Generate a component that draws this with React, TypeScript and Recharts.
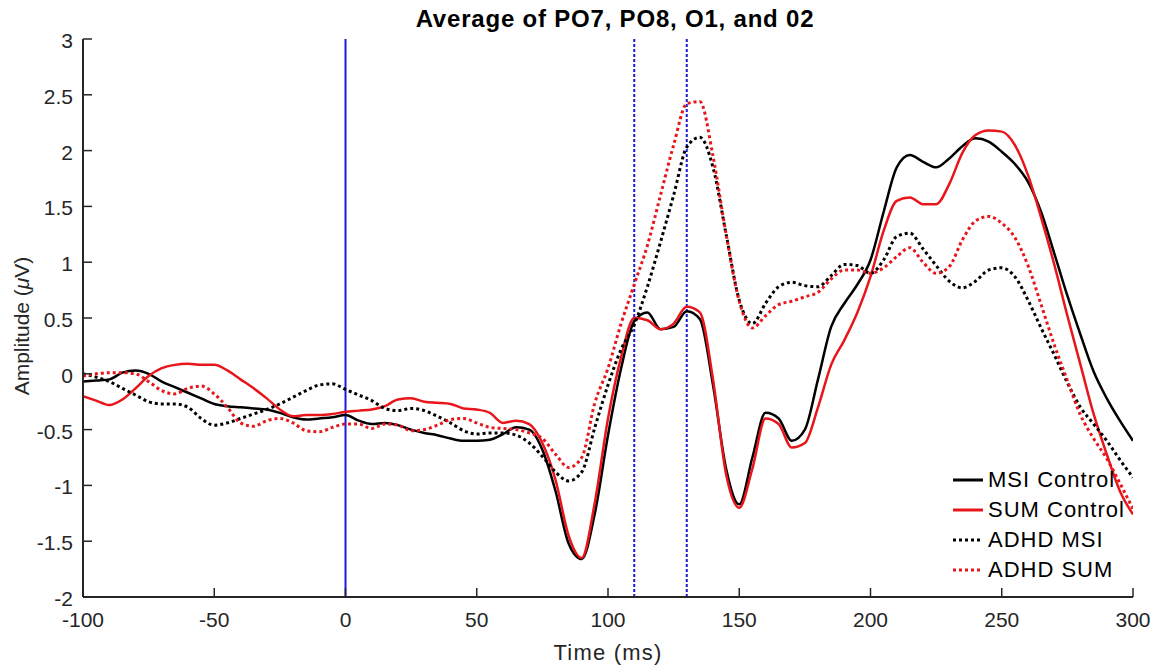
import React from 'react';
import {
  LineChart,
  Line,
  XAxis,
  YAxis,
  ReferenceLine,
  Legend,
  Label,
} from 'recharts';

// time points (ms)
const TIME = [
  -100, -95, -90, -85, -80, -75, -70, -65, -60, -55, -50, -45, -40, -35, -30, -25, -20, -15, -10, -5,
  0, 5, 10, 15, 20, 25, 30, 35, 40, 45, 50, 55, 60, 65, 70, 75, 80, 85, 90, 95,
  100, 105, 110, 115, 120, 125, 130, 135, 140, 145, 150, 155, 160, 165, 170, 175, 180, 185, 190, 195,
  200, 205, 210, 215, 220, 225, 230, 235, 240, 245, 250, 255, 260, 265, 270, 275, 280, 285, 290, 295,
  300,
];

const MSI_CONTROL = [
  -0.07, -0.06, -0.05, 0.01, 0.03, 0.0, -0.07, -0.12, -0.17, -0.22, -0.27, -0.29, -0.3, -0.31, -0.32, -0.35, -0.39, -0.41, -0.4, -0.39,
  -0.37, -0.42, -0.45, -0.44, -0.46, -0.5, -0.53, -0.55, -0.58, -0.6, -0.6, -0.59, -0.54, -0.48, -0.5, -0.68, -1.05, -1.52, -1.66, -1.25,
  -0.55, 0.05, 0.47, 0.55, 0.4, 0.42, 0.56, 0.49, -0.1, -0.85, -1.17, -0.75, -0.35, -0.4, -0.6, -0.5, -0.05, 0.42, 0.63, 0.8,
  1.02, 1.45, 1.85, 1.96, 1.9, 1.85, 1.93, 2.04, 2.11, 2.08, 1.99, 1.88, 1.72, 1.45, 1.08, 0.7, 0.35, 0.02, -0.22, -0.42,
  -0.6,
];

const SUM_CONTROL = [
  -0.2, -0.24, -0.28, -0.23, -0.13, -0.02, 0.05, 0.08, 0.09, 0.08, 0.08, 0.03, -0.05, -0.13, -0.22, -0.32, -0.38, -0.37, -0.37, -0.36,
  -0.34, -0.33, -0.32, -0.29, -0.23, -0.22, -0.25, -0.26, -0.27, -0.31, -0.32, -0.35, -0.44, -0.42, -0.45, -0.62, -0.95, -1.45, -1.65, -1.15,
  -0.4, 0.15, 0.5, 0.48, 0.4, 0.45, 0.6, 0.55, -0.05, -0.9, -1.2, -0.85, -0.4, -0.45, -0.66, -0.62, -0.3, 0.08, 0.3, 0.55,
  0.87, 1.28, 1.55, 1.58, 1.52, 1.52, 1.7, 1.98, 2.14, 2.18, 2.17, 2.05, 1.78, 1.4, 0.98, 0.52, 0.08, -0.36, -0.72, -1.05,
  -1.26,
];

const ADHD_MSI = [
  0.0, -0.03, -0.07, -0.13, -0.19, -0.25, -0.27, -0.27, -0.3, -0.4, -0.46, -0.44, -0.4, -0.36, -0.32, -0.27, -0.21, -0.15, -0.1, -0.09,
  -0.14, -0.19, -0.24, -0.31, -0.33, -0.31, -0.33, -0.38, -0.44, -0.51, -0.54, -0.53, -0.53, -0.55, -0.62, -0.74, -0.88, -0.96, -0.88, -0.48,
  -0.1, 0.22, 0.44, 0.78, 1.18, 1.6, 2.03, 2.12, 1.85, 1.25, 0.66, 0.45, 0.63, 0.78, 0.82, 0.79, 0.78, 0.88, 0.98, 0.97,
  0.9, 1.02, 1.23, 1.26, 1.12, 0.97, 0.83, 0.77, 0.83, 0.93, 0.95, 0.87, 0.66, 0.41, 0.17, -0.08, -0.3, -0.45, -0.6, -0.77,
  -0.93,
];

const ADHD_SUM = [
  -0.02, 0.0, 0.01, 0.01, 0.0, -0.07, -0.15, -0.18, -0.13, -0.11, -0.18, -0.3, -0.44, -0.47, -0.42, -0.4, -0.44, -0.51, -0.52, -0.48,
  -0.45, -0.45, -0.49, -0.45, -0.46, -0.51, -0.5, -0.46, -0.41, -0.4, -0.44, -0.48, -0.49, -0.5, -0.53, -0.58, -0.72, -0.84, -0.75, -0.26,
  0.05, 0.45, 0.8, 1.15, 1.6, 2.05, 2.42, 2.44, 1.95, 1.25, 0.65, 0.41, 0.52, 0.62, 0.65, 0.69, 0.73, 0.85, 0.93, 0.93,
  0.9, 0.95, 1.05, 1.13, 1.0, 0.9, 0.96, 1.2, 1.37, 1.41, 1.35, 1.22, 0.97, 0.62, 0.26, -0.06, -0.37, -0.58, -0.76, -0.98,
  -1.21,
];

const X_TICKS = [-100, -50, 0, 50, 100, 150, 200, 250, 300];
const Y_TICKS = [-2, -1.5, -1, -0.5, 0, 0.5, 1, 1.5, 2, 2.5, 3];
const MARKERS = [110, 130];

const data = TIME.map((t, i) => ({
  t,
  msiControl: MSI_CONTROL[i],
  sumControl: SUM_CONTROL[i],
  adhdMsi: ADHD_MSI[i],
  adhdSum: ADHD_SUM[i],
}));

const FONT = '"Liberation Sans", Arial, sans-serif';
const AXIS = '#262626';
const RED = '#e8161b';

const series = [
  { key: 'msiControl', name: 'MSI Control', color: '#000000', dash: undefined },
  { key: 'sumControl', name: 'SUM Control', color: RED, dash: undefined },
  { key: 'adhdMsi', name: 'ADHD MSI', color: '#000000', dash: '3 3' },
  { key: 'adhdSum', name: 'ADHD SUM', color: RED, dash: '3 3' },
];

// inward ticks, labels outside (matlab style)
const XTick = (props: any) => {
  const { x, y, payload } = props;
  return (
    <g>
      <line x1={x} x2={x} y1={y} y2={y - 9} stroke={AXIS} strokeWidth={1.5} />
      <text x={x} y={y + 30} textAnchor='middle' fill={AXIS} fontSize={21} fontFamily={FONT}>
        {payload.value}
      </text>
    </g>
  );
};

const YTick = (props: any) => {
  const { x, y, payload } = props;
  return (
    <g>
      <line x1={x} x2={x + 9} y1={y} y2={y} stroke={AXIS} strokeWidth={1.5} />
      <text x={x - 10} y={y + 9} textAnchor='end' fill={AXIS} fontSize={21} fontFamily={FONT}>
        {payload.value}
      </text>
    </g>
  );
};

const LegendBox = () => (
  <div style={{ fontFamily: FONT, fontSize: 22, letterSpacing: 1, color: '#000' }}>
    {series.map((s) => (
      <div key={s.key} style={{ display: 'flex', alignItems: 'center', height: 30 }}>
        <svg width={34} height={10}>
          <line
            x1={2}
            x2={32}
            y1={5}
            y2={5}
            stroke={s.color}
            strokeWidth={3}
            strokeDasharray={s.dash}
          />
        </svg>
        <span style={{ marginLeft: 3 }}>{s.name}</span>
      </div>
    ))}
  </div>
);

export default function App() {
  return (
    <div style={{ position: 'absolute', left: 0, top: 0, width: 1161, height: 666, background: '#fff' }}>
      <div
        style={{
          position: 'absolute',
          left: 0,
          width: 1230,
          top: 5,
          textAlign: 'center',
          fontFamily: FONT,
          fontWeight: 'bold',
          fontSize: 24,
          letterSpacing: 0.8,
          lineHeight: '28px',
          color: '#000',
        }}
      >
        Average of PO7, PO8, O1, and 02
      </div>
      <LineChart width={1161} height={666} data={data} margin={{ top: 39, right: 28, bottom: 0, left: 0 }}>
        <XAxis
          dataKey='t'
          type='number'
          domain={[-100, 300]}
          ticks={X_TICKS}
          height={69}
          stroke={AXIS}
          strokeWidth={2}
          tickSize={0}
          tickMargin={0}
          tickLine={false}
          tick={<XTick />}
          allowDataOverflow
        >
          <Label
            value='Time (ms)'
            position='insideBottom'
            offset={6}
            style={{ fontFamily: FONT, fontSize: 22, letterSpacing: 1.2, fill: AXIS }}
          />
        </XAxis>
        <YAxis
          type='number'
          domain={[-2, 3]}
          ticks={Y_TICKS}
          width={83}
          stroke={AXIS}
          strokeWidth={2}
          tickSize={0}
          tickMargin={0}
          tickLine={false}
          tick={<YTick />}
          allowDataOverflow
          label={{
            content: () => (
              <text
                transform='translate(29, 326) rotate(-90)'
                textAnchor='middle'
                fill={AXIS}
                fontSize={21}
                fontFamily={FONT}
              >
                Amplitude (<tspan fontStyle='italic'>μ</tspan>V)
              </text>
            ),
          }}
        />
        <ReferenceLine x={0} stroke='#1a1ae0' strokeWidth={2} ifOverflow='visible' />
        {MARKERS.map((m) => (
          <ReferenceLine
            key={m}
            x={m}
            stroke='#1a1ad8'
            strokeWidth={2}
            strokeDasharray='3 2'
            ifOverflow='visible'
          />
        ))}
        {series.map((s) => (
          <Line
            key={s.key}
            type='monotone'
            dataKey={s.key}
            name={s.name}
            stroke={s.color}
            strokeWidth={s.dash ? 3 : 2.5}
            strokeDasharray={s.dash}
            dot={false}
            activeDot={false}
            isAnimationActive={false}
          />
        ))}
        <Legend
          layout='vertical'
          align='center'
          verticalAlign='middle'
          wrapperStyle={{ left: 951, top: 465, width: 200 }}
          content={() => <LegendBox />}
        />
      </LineChart>
    </div>
  );
}
